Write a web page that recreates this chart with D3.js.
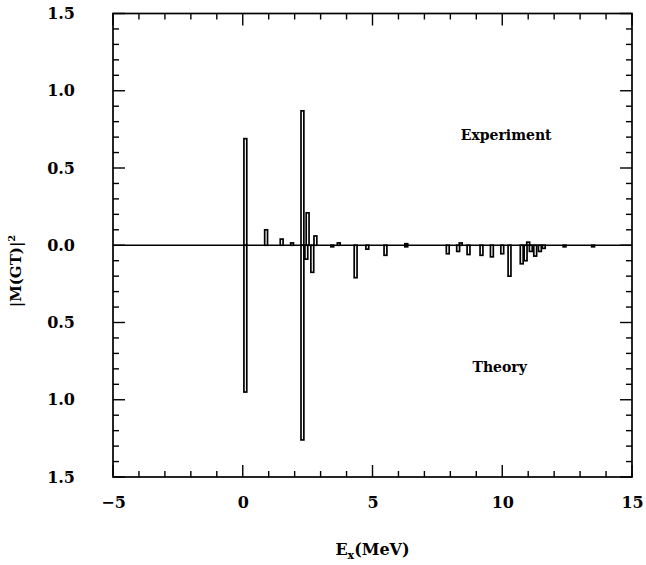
<!DOCTYPE html>
<html lang="en">
<head>
<meta charset="UTF-8">
<title>GT strength: experiment vs theory</title>
<script src="https://d3js.org/d3.v7.min.js"></script>
<style>
    body { margin: 0; background: #fff; }
    svg { display: block; }
    .lbl { font-family: "DejaVu Serif", serif; font-weight: bold; fill: #000; }
</style>
</head>
<body>
<svg width="646" height="565"></svg>
<script>
// experiment (drawn upward)
const expE = [0.1, 0.9, 1.5, 1.9, 2.3, 2.5, 2.8, 3.7, 6.3, 8.4, 11.0];
const expB = [0.69, 0.10, 0.04, 0.015, 0.87, 0.21, 0.06, 0.015, 0.01, 0.015, 0.02];
// theory (drawn downward)
const theoE = [0.1, 2.3, 2.45, 2.68, 3.45, 4.35, 4.8, 5.5, 6.3, 7.9, 8.3, 8.7, 9.2, 9.6,
               10.0, 10.28, 10.75, 10.9, 11.1, 11.27, 11.45, 11.6, 12.4, 13.5];
const theoB = [0.95, 1.26, 0.09, 0.175, 0.01, 0.21, 0.025, 0.065, 0.01, 0.055, 0.04, 0.06,
               0.065, 0.075, 0.055, 0.20, 0.12, 0.10, 0.04, 0.07, 0.04, 0.02, 0.01, 0.01];
const xTicks = [-5, 0, 5, 10, 15];
const yTicks = [-1.5, -1.0, -0.5, 0, 0.5, 1.0, 1.5];

const svg = d3.select("svg");
const L = 113, R = 632, T = 13.5, B = 477;

const x = d3.scaleLinear().domain([-5, 15]).range([L, R]);
const y = d3.scaleLinear().domain([-1.5, 1.5]).range([B, T]);

const g = svg.append("g");

// frame
g.append("rect").attr("x", L).attr("y", T).attr("width", R - L).attr("height", B - T)
    .attr("fill", "none").attr("stroke", "#000").attr("stroke-width", 1.7);

// ticks on all four sides
const xMinor = d3.range(-5, 15.001, 1);
const yMinor = d3.range(-15, 15.001, 1).map(d => d / 10);
const big = 12, small = 6;
xMinor.forEach(v => {
    const len = Math.abs(v % 5) < 1e-9 ? big : small;
    g.append("line").attr("x1", x(v)).attr("x2", x(v)).attr("y1", B).attr("y2", B - len)
        .attr("stroke", "#000").attr("stroke-width", 1.4);
    g.append("line").attr("x1", x(v)).attr("x2", x(v)).attr("y1", T).attr("y2", T + len)
        .attr("stroke", "#000").attr("stroke-width", 1.4);
});
yMinor.forEach(v => {
    const len = Math.abs(Math.round(v * 10) % 5) === 0 ? big : small;
    g.append("line").attr("x1", L).attr("x2", L + len).attr("y1", y(v)).attr("y2", y(v))
        .attr("stroke", "#000").attr("stroke-width", 1.4);
    g.append("line").attr("x1", R).attr("x2", R - len).attr("y1", y(v)).attr("y2", y(v))
        .attr("stroke", "#000").attr("stroke-width", 1.4);
});

// tick labels via axes (tick lines hidden, drawn above)
const xAxis = d3.axisBottom(x).tickValues(xTicks).tickSize(0).tickPadding(20)
    .tickFormat(d => d < 0 ? "\u2212" + Math.abs(d) : d);
svg.append("g").attr("transform", `translate(0,${B})`).call(xAxis)
    .call(a => a.select(".domain").remove())
    .selectAll("text").attr("class", "lbl").style("font-size", "16px");

const yAxis = d3.axisLeft(y).tickValues(yTicks).tickSize(0).tickPadding(38)
    .tickFormat(d => d3.format(".1f")(Math.abs(d)));
svg.append("g").attr("transform", `translate(${L},0)`).call(yAxis)
    .call(a => a.select(".domain").remove())
    .selectAll("text").attr("class", "lbl").style("font-size", "16px");

// zero line
g.append("line").attr("x1", L).attr("x2", R).attr("y1", y(0)).attr("y2", y(0))
    .attr("stroke", "#000").attr("stroke-width", 1.6);

// bars
const hw = 0.055;
const bars = g.append("g").attr("fill", "#fff").attr("stroke", "#000").attr("stroke-width", 1.7);
expE.forEach((e, i) => {
    bars.append("rect").attr("x", x(e - hw)).attr("width", x(e + hw) - x(e - hw))
        .attr("y", y(expB[i])).attr("height", y(0) - y(expB[i]));
});
theoE.forEach((e, i) => {
    bars.append("rect").attr("x", x(e - hw)).attr("width", x(e + hw) - x(e - hw))
        .attr("y", y(0)).attr("height", y(-theoB[i]) - y(0));
});

// annotations
svg.append("text").attr("class", "lbl").attr("x", x(10.15)).attr("y", y(0.68))
    .attr("text-anchor", "middle").style("font-size", "14px").text("Experiment");
svg.append("text").attr("class", "lbl").attr("x", x(9.9)).attr("y", y(-0.82))
    .attr("text-anchor", "middle").style("font-size", "14px").text("Theory");

// axis titles
const xt = svg.append("text").attr("class", "lbl").attr("x", (L + R) / 2).attr("y", 555)
    .attr("text-anchor", "middle").style("font-size", "16px");
xt.append("tspan").text("E");
xt.append("tspan").attr("dy", 4).style("font-size", "11px").text("x");
xt.append("tspan").attr("dy", -4).text("(MeV)");

const yt = svg.append("text").attr("class", "lbl")
    .attr("transform", `translate(21,271) rotate(-90)`)
    .attr("text-anchor", "middle").style("font-size", "15px");
yt.append("tspan").text("|M(GT)|");
yt.append("tspan").attr("dy", -6).style("font-size", "10px").text("2");
</script>
</body>
</html>
